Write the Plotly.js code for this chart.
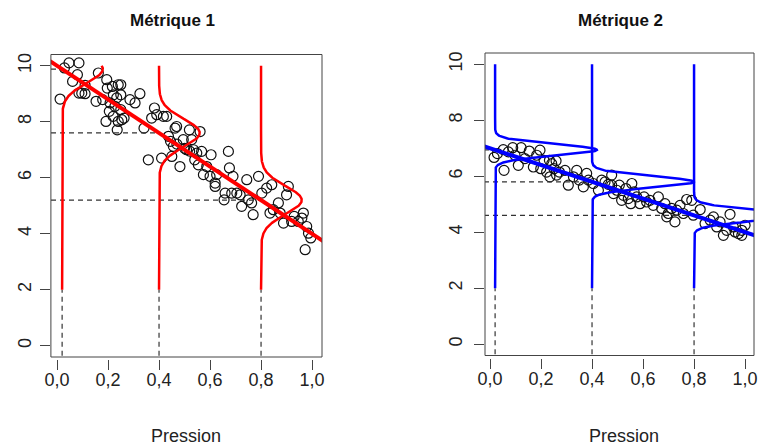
<!DOCTYPE html>
<html>
<head>
<meta charset="utf-8">
<script src="https://cdn.plot.ly/plotly-3.0.1.min.js"></script>
<style>html,body{margin:0;padding:0;background:#fff;}#chart{width:763px;height:446px;}</style>
</head>
<body>
<div id="chart"></div>
<script>
// ---- tick labels ----
const xTickVals = [0, 0.2, 0.4, 0.6, 0.8, 1.0];
const xTickText = ['0,0', '0,2', '0,4', '0,6', '0,8', '1,0'];
const yTickVals = [0, 2, 4, 6, 8, 10];
const panelTitles = ['Métrique 1', 'Métrique 2'];
const xLabel = 'Pression';

// ---- Métrique 1 observations ----
const m1x = [0.012,0.029,0.047,0.086,0.061,0.080,0.097,0.110,0.086,0.110,0.153,0.162,0.195,0.197,0.217,0.240,0.250,0.192,0.205,0.220,0.234,0.227,0.240,0.236,0.254,0.263,0.208,0.221,0.179,0.286,0.306,0.325,0.250,0.250,0.341,0.358,0.371,0.382,0.391,0.417,0.430,0.410,0.437,0.450,0.456,0.463,0.469,0.482,0.495,0.508,0.519,0.528,0.535,0.548,0.561,0.567,0.540,0.554,0.574,0.587,0.600,0.620,0.620,0.604,0.626,0.672,0.676,0.690,0.659,0.655,0.685,0.705,0.718,0.724,0.744,0.763,0.769,0.790,0.803,0.822,0.842,0.835,0.848,0.868,0.875,0.888,0.900,0.907,0.920,0.946,0.966,0.973,0.979,0.986,0.995,0.960,0.750,0.930,0.470,0.500,0.520,0.445];
const m1y = [8.81,9.92,10.10,10.10,9.44,9.68,9.02,9.00,9.02,9.30,8.73,9.74,9.50,9.20,9.26,9.32,9.32,8.01,8.37,8.19,8.85,8.55,8.01,7.71,8.07,8.13,8.67,8.96,8.79,8.79,8.67,9.00,8.96,8.43,7.77,6.64,8.13,8.49,8.25,8.19,8.19,6.70,7.48,6.76,7.12,7.77,7.83,6.40,7.36,7.00,7.71,7.36,7.00,6.88,7.65,6.94,6.64,6.46,6.11,6.40,6.05,5.81,5.69,6.82,6.11,6.94,6.35,6.05,5.45,5.21,5.45,5.45,5.39,4.98,5.93,5.10,4.68,6.05,5.45,5.63,5.75,4.74,4.86,5.10,4.74,4.38,5.39,5.69,4.44,4.44,4.74,3.43,4.26,4.02,3.85,4.56,5.21,4.62,7.20,7.05,6.95,7.30];

// ---- Métrique 2 observations ----
const m2x = [0.016,0.029,0.052,0.055,0.072,0.089,0.098,0.111,0.122,0.137,0.154,0.170,0.183,0.199,0.212,0.222,0.235,0.242,0.251,0.259,0.261,0.272,0.233,0.294,0.307,0.327,0.340,0.350,0.366,0.379,0.386,0.405,0.425,0.438,0.451,0.464,0.477,0.484,0.497,0.507,0.516,0.523,0.533,0.542,0.552,0.565,0.575,0.588,0.604,0.614,0.627,0.640,0.660,0.673,0.686,0.699,0.712,0.725,0.732,0.745,0.758,0.771,0.791,0.797,0.824,0.843,0.863,0.876,0.889,0.902,0.915,0.928,0.941,0.961,0.974,0.987,1.000,0.987,0.954,0.477,0.196,0.693,0.556];
const m2y = [6.67,6.81,6.95,6.21,6.87,7.02,6.75,6.39,7.02,6.63,6.90,6.33,6.75,6.27,6.57,6.15,5.98,6.45,6.27,6.55,6.04,6.15,6.57,6.21,5.68,5.98,6.21,5.86,5.62,6.10,5.86,5.74,5.50,5.86,5.80,5.71,5.68,5.38,5.50,5.68,5.14,5.32,5.56,5.20,5.02,5.44,5.26,5.02,5.26,5.08,5.14,4.96,5.26,4.85,5.02,4.67,4.85,4.37,4.79,4.96,4.67,5.17,5.14,4.61,4.81,4.31,4.43,4.55,4.19,4.37,3.89,4.07,4.64,4.01,3.95,4.07,4.25,3.89,4.19,6.04,6.93,4.55,5.74];

// ---- fitted model per panel ----
const intercepts = [10, 7];
const slopes = [-6, -3];
const sigmas = [0.5, 0.2];
const condX = [0.02, 0.4, 0.8];
const densityScale = 0.2;
const lineColors = ['#ff0000', '#0000ff'];

const traces = [];
const data = [[m1x, m1y], [m2x, m2y]];
const fontFam = 'Liberation Sans, Arial, Helvetica, sans-serif';

for (let p = 0; p < 2; p++) {
  const xa = p === 0 ? 'x' : 'x2';
  const ya = p === 0 ? 'y' : 'y2';
  traces.push({type: 'scatter', mode: 'markers', x: data[p][0], y: data[p][1], xaxis: xa, yaxis: ya,
    marker: {symbol: 'circle-open', size: 10, color: '#111', line: {width: 1.2, color: '#111'}}, hoverinfo: 'skip'});
  // dashed guide lines
  condX.forEach(x0 => {
    const mu = intercepts[p] + slopes[p] * x0;
    traces.push({type: 'scatter', mode: 'lines', x: [-0.2, x0], y: [mu, mu], xaxis: xa, yaxis: ya,
      line: {color: '#333', width: 1.2, dash: '5px,4px'}, hoverinfo: 'skip'});
    traces.push({type: 'scatter', mode: 'lines', x: [x0, x0], y: [-1, 2], xaxis: xa, yaxis: ya,
      line: {color: '#333', width: 1.2, dash: '5px,4px'}, hoverinfo: 'skip'});
  });
  // conditional density curves
  condX.forEach(x0 => {
    const mu = intercepts[p] + slopes[p] * x0;
    const s = sigmas[p];
    const cx = [], cy = [];
    for (let yy = 2; yy <= 10.0001; yy += 0.01) {
      const d = Math.exp(-((yy - mu) ** 2) / (2 * s * s)) / (s * Math.sqrt(2 * Math.PI));
      cx.push(x0 + densityScale * d);
      cy.push(yy);
    }
    traces.push({type: 'scatter', mode: 'lines', x: cx, y: cy, xaxis: xa, yaxis: ya,
      line: {color: lineColors[p], width: 2.5}, hoverinfo: 'skip'});
  });
  // regression line
  const lx = [-0.2, 1.2];
  traces.push({type: 'scatter', mode: 'lines', x: lx, y: lx.map(v => intercepts[p] + slopes[p] * v),
    xaxis: xa, yaxis: ya, line: {color: lineColors[p], width: 4}, hoverinfo: 'skip'});
}

const W = 763, H = 446;
const xAxisBase = {
  anchor: 'free', showline: false, ticks: 'outside', ticklen: 10, tickwidth: 1, tickcolor: '#444',
  tickvals: xTickVals, ticktext: xTickText, showgrid: false, zeroline: false,
  tickfont: {family: fontFam, size: 18, color: '#222'}, ticklabelstandoff: -6
};
const yAxisBase = {
  showline: false, ticks: 'outside', ticklen: 10, tickwidth: 1, tickcolor: '#444',
  tickvals: yTickVals, tickangle: -90, showgrid: false, zeroline: false, range: [-0.4, 10.4],
  tickfont: {family: fontFam, size: 18, color: '#222'}
};

const layout = {
  width: W, height: H, margin: {l: 0, r: 0, t: 0, b: 0},
  paper_bgcolor: '#fff', plot_bgcolor: '#fff', showlegend: false,
  xaxis: Object.assign({}, xAxisBase, {domain: [50.9 / W, 322 / W], range: [-0.024, 1.039], position: (H - 359) / H}),
  yaxis: Object.assign({}, yAxisBase, {domain: [(H - 357) / H, (H - 54.5) / H], anchor: 'x', ticklabelstandoff: 2}),
  xaxis2: Object.assign({}, xAxisBase, {domain: [485 / W, 754 / W], range: [-0.0196, 1.035], position: (H - 358) / H}),
  yaxis2: Object.assign({}, yAxisBase, {domain: [(H - 355.5) / H, (H - 53) / H], anchor: 'x2', ticklabelstandoff: 5}),
  shapes: [
    {type: 'rect', xref: 'x domain', yref: 'y domain', x0: 0, x1: 1, y0: 0, y1: 1, line: {color: '#444', width: 1}},
    {type: 'rect', xref: 'x2 domain', yref: 'y2 domain', x0: 0, x1: 1, y0: 0, y1: 1, line: {color: '#444', width: 1}}
  ],
  annotations: [
    {text: '<b>' + panelTitles[0] + '</b>', xref: 'paper', yref: 'paper', x: 172 / W, y: (H - 20) / H, xanchor: 'center', yanchor: 'middle', showarrow: false, font: {family: fontFam, size: 17, color: '#111'}},
    {text: '<b>' + panelTitles[1] + '</b>', xref: 'paper', yref: 'paper', x: 620 / W, y: (H - 20) / H, xanchor: 'center', yanchor: 'middle', showarrow: false, font: {family: fontFam, size: 17, color: '#111'}},
    {text: xLabel, xref: 'paper', yref: 'paper', x: 186 / W, y: (H - 436) / H, xanchor: 'center', yanchor: 'middle', showarrow: false, font: {family: fontFam, size: 18, color: '#222'}},
    {text: xLabel, xref: 'paper', yref: 'paper', x: 624 / W, y: (H - 436) / H, xanchor: 'center', yanchor: 'middle', showarrow: false, font: {family: fontFam, size: 18, color: '#222'}}
  ]
};

Plotly.newPlot('chart', traces, layout, {displayModeBar: false, staticPlot: true});
</script>
</body>
</html>
